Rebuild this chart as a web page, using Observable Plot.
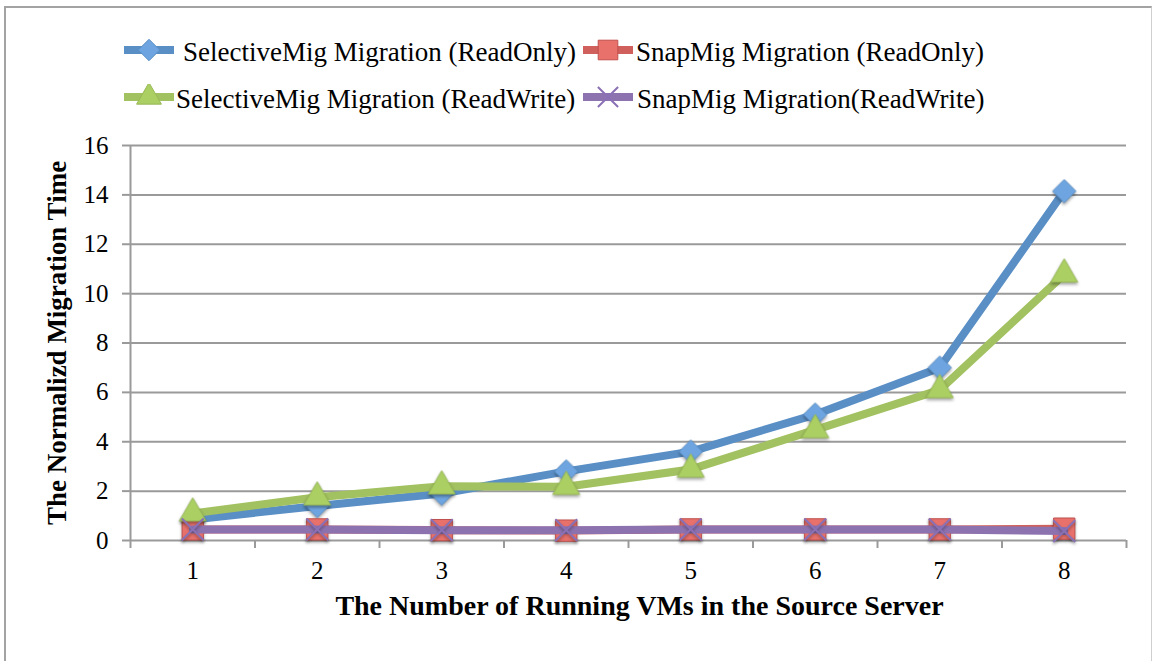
<!DOCTYPE html>
<html>
<head>
<meta charset="utf-8">
<script src="https://cdn.jsdelivr.net/npm/d3@7"></script>
<script src="https://cdn.jsdelivr.net/npm/@observablehq/plot@0.6"></script>
<style>
  body { margin: 0; background: #fff; }
  #wrap { position: relative; width: 1152px; height: 661px; font-family: "Liberation Serif", "Times New Roman", serif; overflow: hidden; }
  #frame { position: absolute; left: 4px; top: 6px; width: 1148px; height: 670px; border-left: 2px solid #a3a3a3; border-top: 2px solid #a3a3a3; border-right: 1px solid #cfcfcf; box-sizing: border-box; pointer-events: none; }
  #legend { position: absolute; left: 0; top: 0; width: 1152px; height: 125px; }
  .item { position: absolute; display: flex; align-items: center; font-size: 27px; color: #000; white-space: nowrap; height: 30px; }
  .item svg { display: block; margin-top: -4px; }
  #chart { position: absolute; left: 0; top: 125px; }
  #chart [aria-label*="axis"] line, #chart [aria-label*="axis"] path { stroke: #9a9a9a; stroke-width: 2px; }
  #chart text { fill: #000; }
  #chart g[aria-label="dot"] { filter: drop-shadow(0px 2px 1.5px rgba(0,0,0,0.35)); }
</style>
</head>
<body>
<div id="wrap">
  <div id="legend"></div>
  <div id="chart"></div>
  <div id="frame"></div>
</div>
<script>
// ---- data ----
const vms = [1, 2, 3, 4, 5, 6, 7, 8];
const selectiveReadOnly = [0.85, 1.4, 1.9, 2.8, 3.6, 5.1, 7.0, 14.15];
const snapReadOnly      = [0.45, 0.45, 0.42, 0.4, 0.45, 0.45, 0.45, 0.48];
const selectiveReadWrite = [1.1, 1.75, 2.2, 2.18, 2.88, 4.48, 6.1, 10.78];
const snapReadWrite     = [0.45, 0.45, 0.42, 0.42, 0.45, 0.45, 0.45, 0.38];
const yTicks = [0, 2, 4, 6, 8, 10, 12, 14, 16];
const xBounds = [0.5, 1.5, 2.5, 3.5, 4.5, 5.5, 6.5, 7.5, 8.5];
const seriesNames = [
  "SelectiveMig Migration (ReadOnly)",
  "SnapMig Migration (ReadOnly)",
  "SelectiveMig Migration (ReadWrite)",
  "SnapMig Migration(ReadWrite)"
];
const xTitle = "The Number of Running VMs in the Source Server";
const yTitle = "The Normalizd Migration Time";

// ---- styles ----
const series = [
  { key: "selRO", name: seriesNames[0], values: selectiveReadOnly, line: "#5a8fc6", fill: "#6ea5e0", stroke: "#5a8fc6", symbol: "diamond2", d3sym: d3.symbolDiamond2, r: 10.5 },
  { key: "snapRO", name: seriesNames[1], values: snapReadOnly, line: "#d0605b", fill: "#e8716c", stroke: "#c0504d", symbol: "square", d3sym: d3.symbolSquare, r: 12 },
  { key: "selRW", name: seriesNames[2], values: selectiveReadWrite, line: "#a2c160", fill: "#abcf63", stroke: "#97b856", symbol: "triangle", d3sym: d3.symbolTriangle, r: 10 },
  { key: "snapRW", name: seriesNames[3], values: snapReadWrite, line: "#8d72b0", fill: "none", stroke: "#8a70b5", symbol: "times", d3sym: d3.symbolTimes, r: 10 }
];

const rows = vms.map((v, i) => {
  const o = { vm: v };
  series.forEach(s => o[s.key] = s.values[i]);
  return o;
});

// ---- legend ----
const legendLayout = [
  { left: 124, top: 37, gap: 9 },
  { left: 583, top: 37, gap: 3 },
  { left: 124, top: 84, gap: 2 },
  { left: 583, top: 84, gap: 4 }
];
const legend = d3.select("#legend");
series.forEach((s, i) => {
  const L = legendLayout[i];
  const item = legend.append("div").attr("class", "item")
    .style("left", L.left + "px").style("top", L.top + "px");
  const svg = item.append("svg").attr("width", 50).attr("height", 26);
  svg.append("line").attr("x1", 0).attr("x2", 50).attr("y1", 13).attr("y2", 13)
    .attr("stroke", s.line).attr("stroke-width", 8).attr("stroke-linecap", "round");
  svg.append("path")
    .attr("transform", "translate(25,13)")
    .attr("d", d3.symbol(s.d3sym, Math.PI * s.r * s.r * 0.85)())
    .attr("fill", s.fill).attr("stroke", s.stroke).attr("stroke-width", s.fill === "none" ? 2 : 1);
  item.append("span").style("margin-left", L.gap + "px").text(s.name);
});

// ---- chart ----
const marks = [
  Plot.ruleY(yTicks, { stroke: "#9a9a9a", strokeWidth: 2 }),
  Plot.ruleX([0.5], { stroke: "#9a9a9a", strokeWidth: 2 })
];
series.forEach(s => {
  marks.push(Plot.line(rows, { x: "vm", y: s.key, stroke: s.line, strokeWidth: 8, strokeLinejoin: "round", strokeLinecap: "round" }));
  marks.push(Plot.dot(rows, { x: "vm", y: s.key, symbol: () => s.symbol, r: s.r, fill: s.fill, stroke: s.stroke, strokeWidth: s.fill === "none" ? 2 : 1 }));
});
marks.push(
  Plot.text(vms, { x: d => d, text: d => String(d), frameAnchor: "bottom", dy: 38, fontSize: 25, fill: "#000" }),
  Plot.text([xTitle], { text: d => d, frameAnchor: "bottom", dy: 74, dx: 11, fontSize: 28, fontWeight: "bold", fill: "#000" }),
  Plot.text([yTitle], { text: d => d, frameAnchor: "left", textAnchor: "middle", dx: -73, rotate: -90, fontSize: 27, fontWeight: "bold", fill: "#000" })
);

const chart = Plot.plot({
  width: 1152,
  height: 536,
  marginLeft: 130,
  marginRight: 26,
  marginTop: 20,
  marginBottom: 121,
  style: { fontFamily: "'Liberation Serif', 'Times New Roman', serif", fontSize: "25px", background: "transparent", color: "#000", overflow: "visible" },
  symbol: { type: "identity" },
  x: { domain: [0.5, 8.5], ticks: xBounds, tickFormat: () => "", tickSize: 8, label: null },
  y: { domain: [0, 16], ticks: yTicks, tickSize: 8, tickPadding: 14, label: null },
  marks
});
document.getElementById("chart").appendChild(chart);
</script>
</body>
</html>
